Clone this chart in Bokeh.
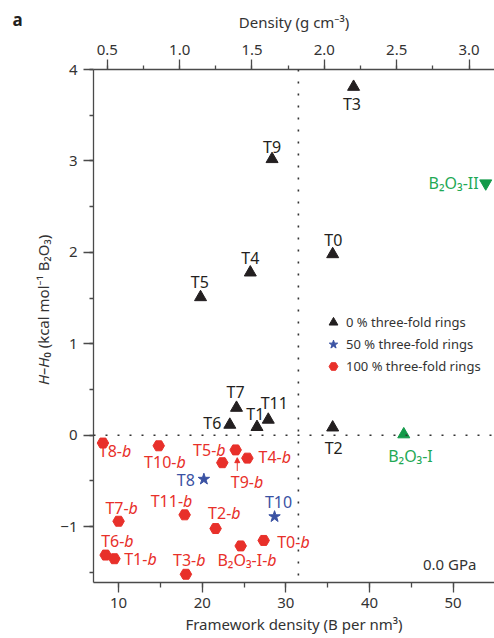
import numpy as np
from bokeh.plotting import figure
from bokeh.layouts import row
from bokeh.models import (Range1d, LinearAxis, SingleIntervalTicker, FixedTicker, Span, Label,
                          Legend, LegendItem, Arrow, NormalHead, NumeralTickFormatter,
                          ColumnDataSource)
from bokeh.core.properties import value
from bokeh.embed import file_html
from bokeh.resources import INLINE

FONT = "Noto Sans"
BLACK = "#231f20"
RED = "#e8302a"
BLUE = "#3a52a3"
GREEN_T = "#1fa955"
GREEN_M = "#129a49"
AXC = "#4a4a4a"
TXT = "#333333"

# ---------------- data ----------------
# 0 % three-fold rings (black triangles)
t0_names = ["T0", "T1", "T2", "T3", "T4", "T5", "T6", "T7", "T9", "T11"]
t0_fd = [35.6, 26.55, 35.6, 38.1, 25.75, 19.8, 23.3, 24.1, 28.35, 27.9]
t0_dh = [1.98, 0.09, 0.085, 3.81, 1.78, 1.51, 0.115, 0.30, 3.02, 0.17]

# 50 % three-fold rings (blue stars)
t50_names = ["T8", "T10"]
t50_fd = [20.2, 28.65]
t50_dh = [-0.48, -0.89]

# 100 % three-fold rings (red hexagons)
t100_names = ["T8", "T10", "T5", "T9", "T4", "T11", "T2", "T7", "T6", "T1", "T0", "T3", "B₂O₃-I"]
t100_fd = [8.13, 14.8, 22.4, 24.0, 25.4, 17.9, 21.6, 10.0, 8.45, 9.5, 27.35, 18.05, 24.6]
t100_dh = [-0.085, -0.115, -0.30, -0.16, -0.25, -0.87, -1.02, -0.94, -1.31, -1.35, -1.15, -1.52, -1.21]

# experimental phases (green)
exp1_name, exp1_fd, exp1_dh = ["B₂O₃-I"], [44.1], [0.01]
exp2_name, exp2_fd, exp2_dh = ["B₂O₃-II"], [53.9], [2.755]

legend_labels = ["0 % three-fold rings", "50 % three-fold rings", "100 % three-fold rings"]
y_label_italic = "H–H"
y_label_rest = "₀ (kcal mol⁻¹ B₂O₃)"
panel_letter = "a"

# label offsets (screen px)
t0_dx = [0.6, -1.7, 1.0, -1.6, 0.0, -0.7, -17.5, -1.0, 0.0, 6.0]
t0_dy = [-14.3, -12.7, 20.0, 17.0, -14.4, -15.0, -1.3, -16.0, -12.3, -16.7]
t50_dx = [-18.0, 4.0]
t50_dy = [1.0, -14.7]
t100_dx = [19.0, 17.7, -6.0, 18.3, 34.4, -1.6, 15.7, 10.0, 18.7, 33.0, 36.7, 10.3, 26.6]
t100_dy = [8.4, 16.7, -12.4, 32.4, -1.3, -14.3, -16.0, -13.4, -13.6, 0.6, 1.7, -14.0, 14.0]

RHO = 0.0578  # g cm^-3 per (B nm^-3) for B2O3
XR = (7.0, 54.95)
YR = (-1.61, 4.0)
H = 638
TOP, BOTTOM = 69, 56
W_A, W_Y = 34, 20

def strip(width, x0):
    f = figure(width=width, height=H, x_range=Range1d(x0, x0 + width),
               y_range=Range1d(BOTTOM, H - TOP),
               output_backend="svg", toolbar_location=None, x_axis_type=None, y_axis_type=None,
               min_border_left=0, min_border_right=0, min_border_top=TOP, min_border_bottom=BOTTOM)
    f.outline_line_color = None
    f.xgrid.visible = False
    f.ygrid.visible = False
    return f

# ---------- strip 1: panel letter (as a tick-less top axis title) ----------
fa = strip(W_A, 0)
ax_a = LinearAxis(ticker=FixedTicker(ticks=[]), axis_label=panel_letter)
ax_a.axis_line_color = None
ax_a.major_tick_out = 0
ax_a.major_tick_in = 0
ax_a.minor_tick_out = 0
ax_a.minor_tick_in = 0
ax_a.major_label_standoff = 0
ax_a.axis_label_standoff = 39
ax_a.axis_label_text_font = FONT
ax_a.axis_label_text_font_size = "17px"
ax_a.axis_label_text_font_style = "bold"
ax_a.axis_label_text_color = BLACK
fa.add_layout(ax_a, "above")

# ---------- strip 2: y-axis title ----------
fy = strip(W_Y, W_A)
fy.text([42], [H - 357], text=[y_label_italic], angle=np.pi / 2, text_font=value(FONT),
        text_font_size="15px", text_font_style="italic", text_align="right",
        text_baseline="middle", text_color=TXT)
fy.text([42], [H - 357], text=[y_label_rest], angle=np.pi / 2, text_font=value(FONT),
        text_font_size="15px", text_align="left", text_baseline="middle", text_color=TXT)

# ---------- main plot ----------
p = figure(width=494 - W_A - W_Y, height=H, x_range=Range1d(*XR), y_range=Range1d(*YR),
           output_backend="svg", toolbar_location=None,
           min_border_left=93 - W_A - W_Y, min_border_right=0,
           min_border_top=TOP, min_border_bottom=BOTTOM)
p.outline_line_color = None
p.xgrid.visible = False
p.ygrid.visible = False
p.background_fill_color = "white"

def style_axis(ax, minor_out):
    ax.axis_line_color = AXC
    ax.axis_line_width = 1.3
    ax.major_tick_line_color = AXC
    ax.major_tick_line_width = 1.3
    ax.minor_tick_line_color = AXC
    ax.minor_tick_line_width = 1.3
    ax.major_tick_in = 0
    ax.major_tick_out = 10
    ax.minor_tick_in = 0
    ax.minor_tick_out = minor_out
    ax.major_label_text_font = FONT
    ax.major_label_text_font_size = "15px"
    ax.major_label_text_color = TXT
    ax.axis_label_text_font = FONT
    ax.axis_label_text_font_size = "15px"
    ax.axis_label_text_font_style = "normal"
    ax.axis_label_text_color = TXT

# bottom axis
xa = p.xaxis[0]
xa.ticker = SingleIntervalTicker(interval=10, num_minor_ticks=2)
xa.axis_label = "Framework density (B per nm³)"
style_axis(xa, 5)
xa.major_label_standoff = 5
xa.axis_label_standoff = 3

# left axis
ya = p.yaxis[0]
ya.ticker = SingleIntervalTicker(interval=1, num_minor_ticks=2)
ya.major_label_overrides = {-1: "−1"}
style_axis(ya, 4)
ya.major_label_standoff = 6

# top axis (density)
p.extra_x_ranges = {"density": Range1d(XR[0] * RHO, XR[1] * RHO)}
top = LinearAxis(x_range_name="density", axis_label="Density (g cm⁻³)",
                 ticker=SingleIntervalTicker(interval=0.5, num_minor_ticks=2),
                 formatter=NumeralTickFormatter(format="0.0"))
style_axis(top, 4)
top.major_label_standoff = 5
top.axis_label_standoff = 10
p.add_layout(top, "above")

# reference lines
p.add_layout(Span(location=0, dimension="width", line_color="#333333", line_width=1.6, line_dash="2 10"))
p.add_layout(Span(location=31.5, dimension="height", line_color="#333333", line_width=1.6, line_dash="2 10"))

# markers
src0 = ColumnDataSource(dict(x=t0_fd, y=t0_dh, t=t0_names, dx=t0_dx, dy=t0_dy))
src50 = ColumnDataSource(dict(x=t50_fd, y=t50_dh, t=t50_names, dx=t50_dx, dy=t50_dy))
src100 = ColumnDataSource(dict(x=t100_fd, y=t100_dh, t=[n + "-" for n in t100_names],
                               b=["b"] * len(t100_names), dx=t100_dx, dy=t100_dy))

r0 = p.scatter("x", "y", source=src0, marker="triangle", size=12, fill_color=BLACK, line_color=BLACK)
r50 = p.scatter("x", "y", source=src50, marker="star", size=12, fill_color=BLUE, line_color=BLUE)
r100 = p.scatter("x", "y", source=src100, marker="hex", size=11.5, fill_color=RED, line_color=RED)
p.scatter(exp1_fd, exp1_dh, marker="triangle", size=12, fill_color=GREEN_M, line_color=GREEN_M)
p.scatter(exp2_fd, exp2_dh, marker="inverted_triangle", size=12, fill_color=GREEN_M, line_color=GREEN_M)

# point labels
common = dict(text_font=value(FONT), text_font_size="16px", text_baseline="middle")
p.text("x", "y", text="t", x_offset="dx", y_offset="dy", source=src0,
       text_align="center", text_color=BLACK, **common)
p.text("x", "y", text="t", x_offset="dx", y_offset="dy", source=src50,
       text_align="center", text_color=BLUE, **common)
p.text("x", "y", text="t", x_offset="dx", y_offset="dy", source=src100,
       text_align="right", text_color=RED, **common)
p.text("x", "y", text="b", x_offset="dx", y_offset="dy", source=src100,
       text_align="left", text_color=RED, text_font_style="italic", **common)
p.text(exp1_fd, exp1_dh, text=exp1_name, x_offset=6.7, y_offset=21.7,
       text_align="center", text_color=GREEN_T, **common)
p.text(exp2_fd, exp2_dh, text=exp2_name, x_offset=-7, y_offset=0,
       text_align="right", text_color=GREEN_T, **common)

# arrow for T9-b
i9 = 3
p.add_layout(Arrow(end=NormalHead(size=5, fill_color=RED, line_color=RED),
                   x_start=t100_fd[i9] + 0.19, y_start=t100_dh[i9] - 0.23,
                   x_end=t100_fd[i9] + 0.19, y_end=t100_dh[i9] - 0.085,
                   line_color=RED, line_width=1))

# legend
legend = Legend(items=[LegendItem(label=legend_labels[0], renderers=[r0]),
                       LegendItem(label=legend_labels[1], renderers=[r50]),
                       LegendItem(label=legend_labels[2], renderers=[r100])],
                location=(229, 205), glyph_width=22, glyph_height=22, label_height=20,
                spacing=0, padding=0, margin=0, border_line_alpha=0,
                background_fill_alpha=0, label_text_font=FONT,
                label_text_font_size="13px", label_standoff=2, label_text_color=TXT)
p.add_layout(legend)

# pressure note
p.add_layout(Label(x=383, y=18.4, x_units="screen", y_units="screen", text="0.0 GPa",
                   text_align="right", text_baseline="middle", text_font=FONT,
                   text_font_size="15px", text_color=TXT))

layout = row(fa, fy, p, spacing=0)
open("out.html", "w").write(file_html(layout, INLINE))
